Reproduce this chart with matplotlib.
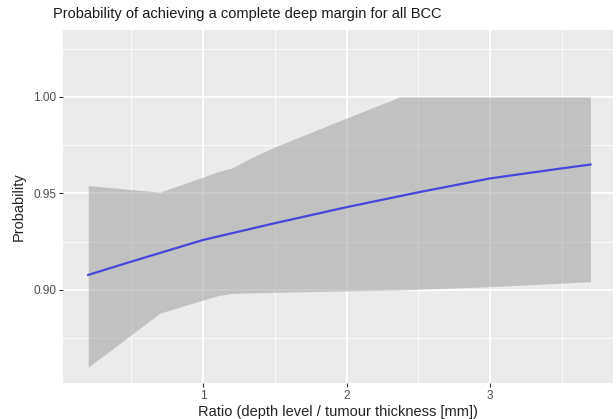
import numpy as np
import matplotlib
matplotlib.use("Agg")
import matplotlib.pyplot as plt
from matplotlib.ticker import MultipleLocator

plt.rcParams['font.family'] = ['Liberation Sans', 'DejaVu Sans']

# fitted probability curve
ratio_fit = [0.2, 0.5, 1.0, 1.5, 2.0, 2.5, 3.0, 3.5, 3.7]
prob_fit = [0.9078, 0.9147, 0.9259, 0.9346, 0.9429, 0.9506, 0.9578, 0.9630, 0.9650]

# confidence band
ratio_band = [0.2, 0.7, 1.0, 1.1, 1.2, 1.35, 1.5, 2.0, 2.37, 3.0, 3.7]
band_upper = [0.9541, 0.9507, 0.9585, 0.9612, 0.9632, 0.9690, 0.9741, 0.9891, 1.0000, 1.0000, 1.0000]
band_lower = [0.8600, 0.8880, 0.8948, 0.8970, 0.8982, 0.8985, 0.8988, 0.8995, 0.9000, 0.9017, 0.9043]

y_ticks = [0.90, 0.95, 1.00]
y_tick_labels = ["0.90", "0.95", "1.00"]
x_ticks = [1, 2, 3]

fig = plt.figure(figsize=(6.16, 4.19), dpi=100)
ax = fig.add_axes([63 / 616, 1 - 383 / 419, 550 / 616, 353 / 419])
ax.set_facecolor('#EBEBEB')

# grid like ggplot theme_grey
ax.set_xticks(x_ticks)
ax.set_yticks(y_ticks)
ax.set_yticklabels(y_tick_labels)
ax.xaxis.set_minor_locator(MultipleLocator(0.5))
ax.yaxis.set_minor_locator(MultipleLocator(0.025))
ax.grid(which='major', color='white', linewidth=1.3)
ax.grid(which='minor', color='white', linewidth=0.6)
ax.set_axisbelow(True)

ax.fill_between(ratio_band, band_lower, band_upper, color='#999999', alpha=0.5,
                linewidth=0, zorder=2)
ax.plot(ratio_fit, prob_fit, color='#4646DC', linewidth=1.6, zorder=3)

ax.set_xlim(0.024, 3.857)
ax.set_ylim(0.8518, 1.0347)

for s in ax.spines.values():
    s.set_visible(False)
ax.tick_params(which='major', length=3, width=0.8, color='#333333',
               labelcolor='#4D4D4D', labelsize=8.5, pad=2)
ax.tick_params(which='minor', length=0)

ax.set_xlabel('Ratio (depth level / tumour thickness [mm])', fontsize=10.5,
              color='#222222', labelpad=2)
ax.set_ylabel('Probability', fontsize=10.5, color='#222222', labelpad=5)
fig.text(53 / 616, 1 - 14 / 419, 'Probability of achieving a complete deep margin for all BCC',
         fontsize=10.5, color='#1A1A1A', va='center', ha='left')

fig.savefig('out.png', dpi=100)
